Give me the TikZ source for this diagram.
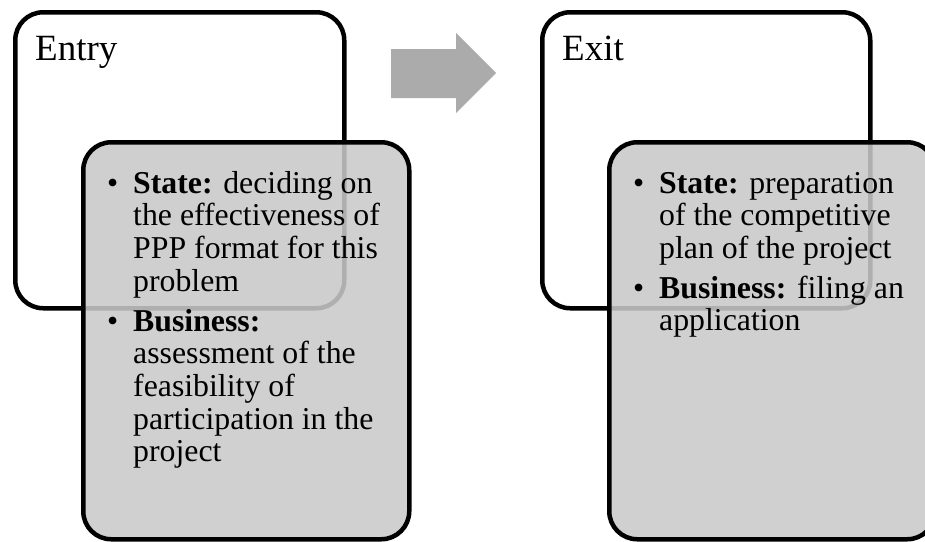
\documentclass[tikz,border=0pt]{standalone}
\usepackage{fontspec}
\setmainfont{Liberation Serif}
\definecolor{panelgray}{RGB}{201,201,201}
\definecolor{arrowgray}{RGB}{171,171,171}
% item text: lines stacked from the baseline of the first one
\newcommand{\itemlines}[1]{\begin{tabular}[t]{@{}l@{}}#1\end{tabular}}
\tikzset{
  outerbox/.style={draw=black, line width=4.5pt, rounded corners=28pt, fill=white,
    anchor=north west, inner sep=0pt},
  detailbox/.style={draw=black, line width=4.5pt, rounded corners=28pt, fill=panelgray,
    fill opacity=0.875, anchor=north west, inner sep=0pt},
  heading/.style={font=\fontsize{37}{40}\selectfont, anchor=base west, inner sep=0pt},
  itemtext/.style={font=\fontsize{31.8}{32.7}\selectfont, anchor=base west, inner sep=0pt},
  bulletmark/.style={font=\fontsize{31.8}{32.7}\selectfont, anchor=base west, inner sep=0pt},
}
\begin{document}
\begin{tikzpicture}[x=1pt,y=-1pt]
  \useasboundingbox (0,0) rectangle (925,541);

  % Entry stage
  \node[outerbox, minimum width=329pt, minimum height=296pt] (entryBox) at (13,10) {};
  \node[heading] (entryTitle) at (35,60) {Entry};
  \node[detailbox, minimum width=326pt, minimum height=397pt] (entryDetail) at (81,140) {};
  \node[bulletmark] (entryB1) at (107,193) {•};
  \node[itemtext] (entryItem1) at (133,193)
    {\itemlines{\textbf{State:} deciding on\\the effectiveness of\\PPP format for this\\problem}};
  \node[bulletmark] (entryB2) at (107,331) {•};
  \node[itemtext] (entryItem2) at (133,331)
    {\itemlines{\textbf{Business:}\\assessment of the\\feasibility of\\participation in the\\project}};

  % Transition arrow
  \fill[arrowgray] (391,49) -- (456,49) -- (456,33) -- (496,73) -- (456,113)
    -- (456,98) -- (391,98) -- cycle;

  % Exit stage
  \node[outerbox, minimum width=328pt, minimum height=296pt] (exitBox) at (540,10) {};
  \node[heading] (exitTitle) at (562,60) {Exit};
  \node[detailbox, minimum width=326pt, minimum height=397pt] (exitDetail) at (607,140) {};
  \node[bulletmark] (exitB1) at (633,193) {•};
  \node[itemtext] (exitItem1) at (659,193)
    {\itemlines{\textbf{State:} preparation\\of the competitive\\plan of the project}};
  \node[bulletmark] (exitB2) at (633,298) {•};
  \node[itemtext] (exitItem2) at (659,298)
    {\itemlines{\textbf{Business:} filing an\\application}};
\end{tikzpicture}
\end{document}
